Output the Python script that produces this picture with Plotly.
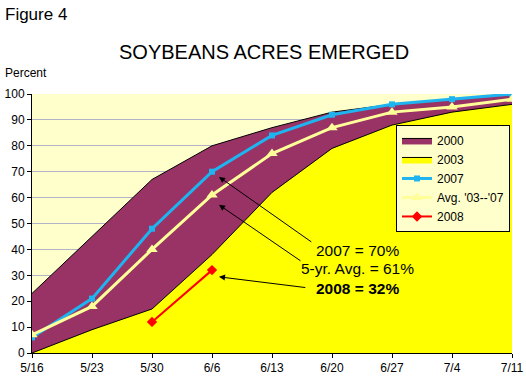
import plotly.graph_objects as go

dates = ["5/16", "5/23", "5/30", "6/6", "6/13", "6/20", "6/27", "7/4", "7/11"]
y2000 = [23, 45, 67, 80, 87, 93, 96, 98, 100]
y2003 = [0, 9, 17, 38, 62, 79, 88, 93, 96]
y2007 = [6, 21, 48, 70, 84, 92, 96, 98, 100]
yavg = [7, 18, 40, 61, 77, 87, 93, 95, 98]
dates2008 = ["5/30", "6/6"]
y2008 = [12, 32]

xi = list(range(len(dates)))
x2008 = [dates.index(d) for d in dates2008]

FONT = "Liberation Sans, Arial, sans-serif"

fig = go.Figure()
fig.add_trace(go.Scatter(x=xi, y=y2000, name="2000", mode="lines", fill="tozeroy",
                         fillcolor="#993366", line=dict(color="black", width=1)))
fig.add_trace(go.Scatter(x=xi, y=y2003, name="2003", mode="lines", fill="tozeroy",
                         fillcolor="#FFFF00", line=dict(color="black", width=1)))
fig.add_trace(go.Scatter(x=xi, y=y2007, name="2007", mode="lines+markers",
                         line=dict(color="#1EB4F0", width=3),
                         marker=dict(symbol="square", size=6, color="#1EB4F0")))
fig.add_trace(go.Scatter(x=xi, y=yavg, name="Avg. '03--'07", mode="lines+markers",
                         line=dict(color="#FFFF99", width=3),
                         marker=dict(symbol="triangle-up", size=10, color="#FFFF99")))
fig.add_trace(go.Scatter(x=x2008, y=y2008, name="2008", mode="lines+markers",
                         line=dict(color="#FF0000", width=2),
                         marker=dict(symbol="diamond", size=8, color="#FF0000")))

# arrows
arrows = [((3.117, 68), (4.68, 42.5)), ((3.117, 57.2), (4.5, 35.2)), ((3.117, 29.4), (4.58, 25.2))]
for (tx, ty), (sx, sy) in arrows:
    fig.add_annotation(x=tx, y=ty, ax=sx, ay=sy, xref="x", yref="y", axref="x", ayref="y",
                       text="", showarrow=True, arrowhead=2, arrowsize=1.2, arrowwidth=1,
                       arrowcolor="black")
fig.add_annotation(x=5.43, y=39.6, text="2007 = 70%", showarrow=False,
                   font=dict(size=15.5, color="black", family=FONT))
fig.add_annotation(x=5.43, y=32.8, text="5-yr. Avg. = 61%", showarrow=False,
                   font=dict(size=15.5, color="black", family=FONT))
fig.add_annotation(x=5.43, y=25.0, text="<b>2008 = 32%</b>", showarrow=False,
                   font=dict(size=15.5, color="black", family=FONT))

PW, PH = 480, 259.3
fig.update_layout(
    width=526, height=379,
    margin=dict(l=32, r=14, t=94, b=25.7, autoexpand=False),
    paper_bgcolor="white", plot_bgcolor="#FFFFCC",
    font=dict(family=FONT, size=12, color="black"),
    showlegend=True,
    legend=dict(x=(396 - 32) / PW, y=(353.3 - 125) / PH, xanchor="left", yanchor="top",
                bgcolor="#FFFFCC", bordercolor="black", borderwidth=1,
                font=dict(size=12, family=FONT), tracegroupgap=0,
                itemwidth=30),
    xaxis=dict(range=[0, 8], tickvals=xi, ticktext=dates, showgrid=False,
               showline=True, linecolor="black", linewidth=1, ticks="outside",
               ticklen=4, tickcolor="black", zeroline=False, fixedrange=True,
               automargin=False),
    yaxis=dict(range=[0, 100], dtick=10, showgrid=True, gridcolor="#B4B4C8",
               showline=True, linecolor="black", linewidth=1, ticks="outside",
               ticklen=4, tickcolor="black", zeroline=False, fixedrange=True,
               automargin=False),
)
fig.add_annotation(text="Figure 4", xref="paper", yref="paper", x=-29 / PW,
                   y=(353.3 - 14) / PH, xanchor="left", yanchor="middle", showarrow=False,
                   font=dict(size=17, family=FONT))
fig.add_annotation(text="SOYBEANS ACRES EMERGED", xref="paper", yref="paper",
                   x=(263.5 - 32) / PW, y=(353.3 - 52) / PH, yanchor="middle",
                   showarrow=False, font=dict(size=20, family=FONT))
fig.add_annotation(text="Percent", xref="paper", yref="paper", x=-29 / PW,
                   y=(353.3 - 73) / PH, xanchor="left", yanchor="middle",
                   showarrow=False, font=dict(size=12, family=FONT))
fig.write_html("out.html", config={"displayModeBar": False},
               post_script="document.body.style.margin='0';document.body.style.padding='0';")
